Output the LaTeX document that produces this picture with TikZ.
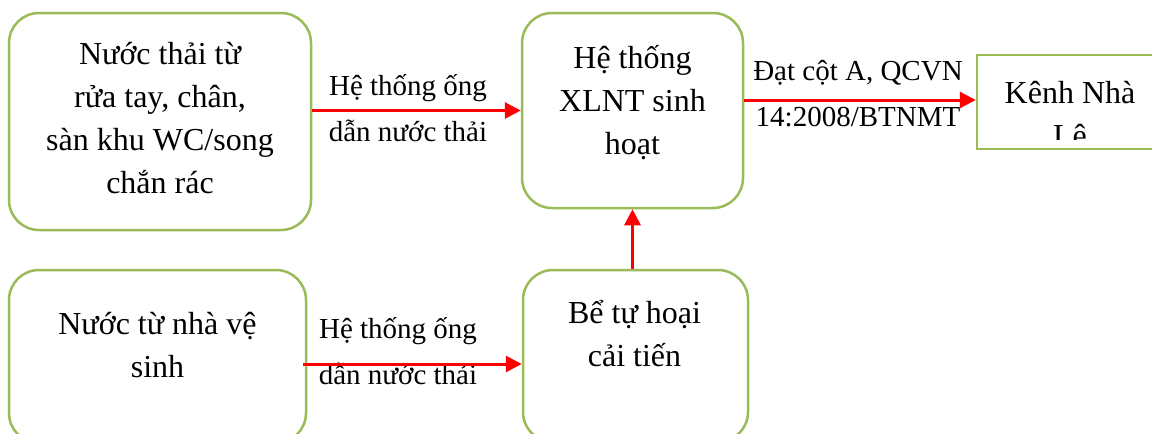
\documentclass[tikz,border=0pt]{standalone}
\usepackage{fontspec}
\setmainfont{Liberation Serif}
\usetikzlibrary{arrows.meta}
\definecolor{boxgreen}{HTML}{9BBB59}
\definecolor{flowred}{HTML}{FF0000}
\begin{document}
\begin{tikzpicture}[x=1pt,y=-1pt,
  box/.style={draw=boxgreen, line width=2.5pt, rounded corners=30pt, inner sep=0pt},
  sharpbox/.style={draw=boxgreen, line width=2.5pt, inner sep=0pt},
  boxtext/.style={align=center, inner sep=0pt, font=\fontsize{32}{43}\selectfont},
  flowlabel/.style={align=center, inner sep=0pt, font=\fontsize{29}{46}\selectfont},
  flow/.style={draw=flowred, line width=3pt, -{Triangle[length=16pt,width=16pt]}}]
\fill[white] (0,0) rectangle (1152,434);
\useasboundingbox (0,0) rectangle (1152,434);

% process boxes
\node[box, minimum width=302pt, minimum height=217pt] (b1) at (160,121.5) {};
\node[box, minimum width=297pt, minimum height=173pt] (b2) at (157.5,356.5) {};
\node[box, minimum width=221pt, minimum height=195pt] (b3) at (632.5,110.5) {};
\node[box, minimum width=225pt, minimum height=172pt] (b4) at (635.5,356) {};
\node[sharpbox, minimum width=188pt, minimum height=94pt] (b5) at (1071,102) {};

% box texts
\node[boxtext] (t1) at (160,118.5) {Nước thải từ\\rửa tay, chân,\\sàn khu WC/song\\chắn rác};
\node[boxtext] (t2) at (157.5,345.5) {Nước từ nhà vệ\\sinh};
\node[boxtext] (t3) at (632.5,102.5) {Hệ thống\\XLNT sinh\\hoạt};
\node[boxtext] (t4) at (634.5,334) {Bể tự hoại\\cải tiến};
\begin{scope}
  \clip (977,55) rectangle (1152,139);
  \node[boxtext] (t5) at (1070,114.5) {Kênh Nhà\\Lê};
\end{scope}

% connector labels
\node[flowlabel] (l1) at (408,108) {Hệ thống ống\\dẫn nước thải};
\node[flowlabel] (l2) at (398,351) {Hệ thống ống\\dẫn nước thải};
\node[flowlabel] (l4) at (858,93.5) {Đạt cột A, QCVN\\14:2008/BTNMT};

% connectors
\coordinate (a2s) at (303,364);
\draw[flow] (b1.east |- b3.west) -- (b3.west);
\draw[flow] (a2s) -- (a2s -| b4.west);
\draw[flow] (b4.north -| b3.south) -- (b3.south);
\draw[flow] ([yshift=2pt]b3.east |- b5.west) -- ([yshift=2pt]b5.west);
\end{tikzpicture}
\end{document}
